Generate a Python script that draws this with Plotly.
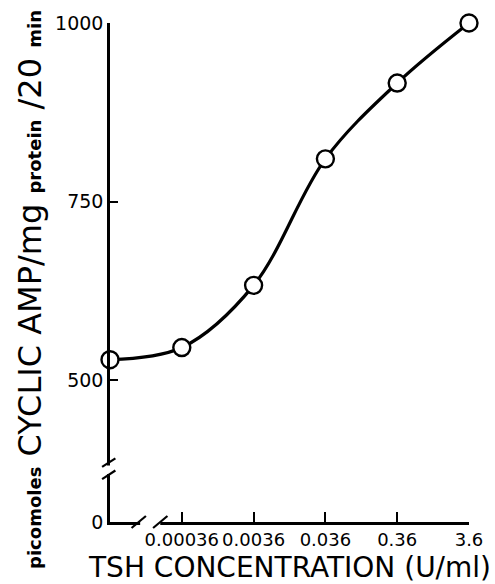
import plotly.graph_objects as go

# ---- data ----
x_labels = ["0.00036", "0.0036", "0.036", "0.36", "3.6"]   # TSH U/ml
x_pos = [0, 1, 2, 3, 4, 5]                                  # 0 = control (no TSH), then log steps
camp = [529, 546, 633, 810, 916, 1000]                      # picomoles cAMP / mg protein / 20 min
y_ticks = [500, 750, 1000]
y_zero_pos = 302   # where the "0" of the broken axis sits

FONT = "DejaVu Sans"

fig = go.Figure()
fig.add_trace(go.Scatter(
    x=x_pos, y=camp, mode="lines+markers",
    line=dict(color="black", width=3.2, shape="spline", smoothing=1.0),
    marker=dict(symbol="circle", size=17, color="white",
                line=dict(color="black", width=2.4)),
    cliponaxis=False, showlegend=False, hoverinfo="skip",
))

fig.update_layout(
    width=495, height=584,
    margin=dict(l=110, r=21, t=22, b=62),
    plot_bgcolor="white", paper_bgcolor="white",
    font=dict(family=FONT, color="black"),
    xaxis=dict(
        range=[0, 5.0], showgrid=False, zeroline=False,
        showline=True, linecolor="black", linewidth=2.5,
        tickmode="array", tickvals=x_pos[1:], ticktext=x_labels,
        ticks="inside", ticklen=10, tickwidth=2.2, tickcolor="black",
        tickangle=0, tickfont=dict(size=18, family=FONT),
    ),
    yaxis=dict(
        range=[y_zero_pos, 1000], showgrid=False, zeroline=False,
        showline=True, linecolor="black", linewidth=2.5,
        tickmode="array", tickvals=[y_zero_pos] + y_ticks,
        ticktext=["0"] + [str(v) for v in y_ticks],
        ticks="inside", ticklen=8, tickwidth=2.2, tickcolor="black",
        tickfont=dict(size=19, family=FONT),
    ),
)

# x-axis title
fig.add_annotation(
    text="TSH CONCENTRATION (U/ml)", xref="paper", yref="paper",
    x=0.5, y=0, yshift=-45, showarrow=False, xanchor="center", yanchor="middle",
    font=dict(size=28, family=FONT, color="black"),
)
# y-axis title (mixed sizes)
small = "<span style='font-size:18px'><b>{}</b></span>"
ytitle = (small.format("picomoles") + " CYCLIC AMP/mg " + small.format("protein")
          + " /20 " + small.format("min"))
fig.add_annotation(
    text=ytitle, xref="paper", yref="paper", x=0, y=0.465, xshift=-80,
    showarrow=False, textangle=-90, xanchor="center", yanchor="middle",
    font=dict(size=32, family=FONT, color="black"),
)

# axis break marks (decoration)
fig.add_shape(type="rect", xref="paper", yref="y", x0=-0.01, x1=0.01, y0=369, y1=381,
              fillcolor="white", line=dict(width=0), layer="above")
for yc in [385, 368]:
    fig.add_shape(type="line", xref="paper", yref="y", x0=-0.022, x1=0.015,
                  y0=yc - 6, y1=yc + 6, line=dict(color="black", width=2.2), layer="above")
fig.add_shape(type="rect", xref="x", yref="paper", x0=0.42, x1=0.7, y0=-0.012, y1=0.012,
              fillcolor="white", line=dict(width=0), layer="above")
for xc in [0.4, 0.7]:
    fig.add_shape(type="line", xref="x", yref="paper", x0=xc - 0.1, x1=xc + 0.1,
                  y0=-0.012, y1=0.012, line=dict(color="black", width=2.2), layer="above")

fig.write_html(
    "out.html",
    config={"displayModeBar": False},
    post_script="document.body.style.margin='0';document.body.style.padding='0';"
                "document.documentElement.style.overflow='hidden';",
)
